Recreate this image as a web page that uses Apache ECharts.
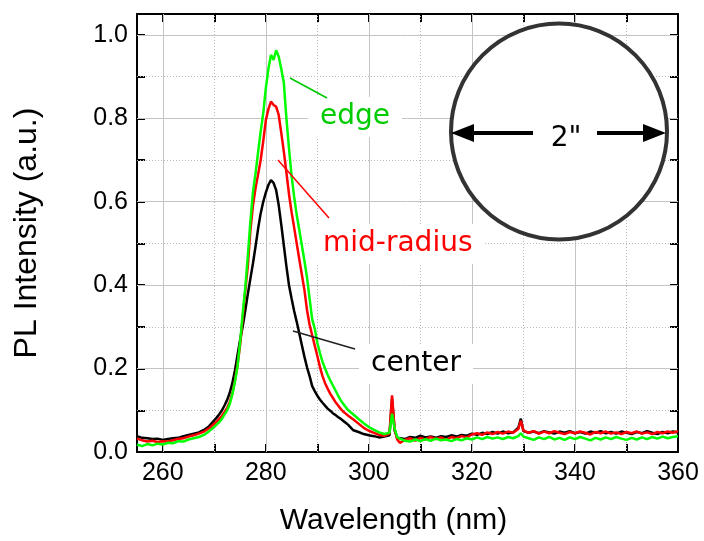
<!DOCTYPE html>
<html>
<head>
<meta charset="utf-8">
<script src="https://cdn.jsdelivr.net/npm/echarts@6/dist/echarts.min.js"></script>
<style>
  html, body { margin: 0; padding: 0; background: #fff; }
  #chart { width: 704px; height: 541px; }
</style>
</head>
<body>
<div id="chart"></div>
<script>
// Sampling wavelengths (nm): coarse in the tails, 0.5 nm across the band-edge peak
const wavelength = [
  255, 256, 257, 258, 259, 260, 261, 262, 263, 264, 265, 266, 267, 268, 269,
  270, 270.5, 271, 271.5, 272, 272.5, 273, 273.5, 274, 274.5, 275, 275.5, 276, 276.5, 277, 277.5,
  278, 278.5, 279, 279.5, 280, 280.5, 281, 281.5, 282, 282.5, 283, 283.5, 284, 284.5, 285, 285.5,
  286, 286.5, 287, 287.5, 288, 288.5, 289, 289.5, 290, 290.5, 291, 291.5, 292, 292.5, 293, 293.5,
  294, 294.5, 295, 295.5, 296,
  297, 298, 299, 300, 301, 302, 303, 304, 304.5, 305, 305.5,
  306, 307, 308, 309, 310, 311, 312, 313, 314, 315, 316, 317, 318, 319, 320, 321, 322, 323, 324,
  325, 326, 327, 328, 329, 329.5,
  330, 331, 332, 333, 334, 335, 336, 337, 338, 339, 340, 341, 342, 343, 344, 345, 346, 347, 348,
  349, 350, 351, 352, 353, 354, 355, 356, 357, 358, 359, 360
];

// PL intensity (a.u.) at the wafer center
const center = [
  .038, .034, .033, .031, .032, .029, .031, .033, .034, .038, .041, .044, .047, .053, .062,
  .076, .083, .091, .100, .112, .125, .142, .165, .195, .232, .268, .300, .338, .378, .415, .452,
  .492, .535, .572, .600, .622, .640, .652, .645, .628, .592, .545, .495, .445, .400, .368, .338,
  .312, .284, .256, .228, .203, .182, .158, .146, .135, .126, .118, .111, .104, .099, .093, .089,
  .084, .080, .075, .070, .065,
  .052, .048, .043, .040, .038, .035, .037, .040, .128, .052, .034,
  .033, .031, .036, .034, .039, .035, .037, .034, .038, .036, .040, .037, .041, .039, .044, .041, .046, .043, .048,
  .044, .049, .045, .047, .058, .080,
  .050, .046, .049, .045, .050, .047, .044, .049, .046, .050, .045, .048, .044, .049, .046, .050, .045, .048, .044,
  .049, .046, .043, .048, .045, .050, .046, .043, .048, .045, .049, .047
];

// PL intensity (a.u.) at mid-radius
const midRadius = [
  .032, .028, .025, .027, .024, .026, .025, .028, .031, .033, .037, .040, .044, .049, .057,
  .068, .073, .080, .087, .096, .106, .120, .140, .170, .208, .255, .320, .385, .445, .530, .590,
  .632, .665, .700, .745, .795, .822, .840, .832, .828, .808, .765, .720, .670, .618, .575, .538,
  .500, .462, .425, .388, .340, .305, .280, .255, .230, .204, .182, .165, .152, .140, .130, .120,
  .112, .104, .097, .092, .087,
  .078, .068, .058, .051, .046, .041, .039, .044, .136, .055, .030,
  .022, .029, .033, .027, .034, .030, .036, .031, .035, .029, .036, .033, .038, .035, .042, .045, .041, .047, .043,
  .048, .044, .049, .046, .055, .075,
  .052, .046, .050, .044, .049, .045, .050, .046, .043, .048, .045, .049, .046, .042, .048, .045, .049, .044, .047,
  .043, .048, .045, .049, .044, .047, .043, .048, .045, .049, .046, .050
];

// PL intensity (a.u.) at the wafer edge
const edge = [
  .018, .014, .019, .016, .020, .018, .022, .021, .026, .025, .030, .033, .036, .041, .050,
  .060, .066, .072, .080, .090, .100, .115, .138, .168, .205, .262, .330, .392, .468, .552, .622,
  .668, .718, .768, .812, .872, .918, .952, .940, .963, .948, .918, .885, .800, .728, .662, .612,
  .568, .532, .495, .458, .418, .368, .318, .296, .262, .238, .216, .200, .185, .172, .160, .148,
  .136, .125, .116, .108, .100,
  .090, .079, .069, .060, .053, .047, .043, .046, .092, .056, .036,
  .032, .027, .025, .030, .026, .031, .027, .032, .028, .030, .026, .031, .028, .033, .030, .035, .031, .036, .032,
  .035, .031, .036, .033, .038, .045,
  .037, .033, .029, .035, .031, .036, .030, .034, .029, .035, .031, .036, .032, .028, .034, .030, .035, .031, .036,
  .032, .029, .034, .030, .035, .031, .036, .032, .037, .033, .036, .038
];

// Axis ticks, labels and grid positions
const xTickLabels = [260, 280, 300, 320, 340, 360];
const xTicks = [260, 270, 280, 290, 300, 310, 320, 330, 340, 350, 360];
const yTickLabels = [0, 0.2, 0.4, 0.6, 0.8, 1.0];
const yTicks = [0, 0.1, 0.2, 0.3, 0.4, 0.5, 0.6, 0.7, 0.8, 0.9, 1.0];
const xMajorGrid = [260, 280, 300, 320, 340];
const xMinorGrid = [270, 290, 310, 330, 350];
const yMajorGrid = [0.2, 0.4, 0.6, 0.8, 1.0];
const yMinorGrid = [0.1, 0.3, 0.5, 0.7, 0.9];

const chart = echarts.init(document.getElementById('chart'), null, { renderer: 'canvas' });

const pairs = ys => wavelength.map((x, i) => [x, ys[i]]);

const solidGrid = { color: '#c4c4c4', width: 1, type: 'solid' };
const dottedGrid = { color: '#b8b8b8', width: 1, type: [1, 2] };
const gridLines = [
  ...xMajorGrid.map(v => ({ xAxis: v, lineStyle: solidGrid })),
  ...xMinorGrid.map(v => ({ xAxis: v, lineStyle: dottedGrid })),
  ...yMajorGrid.map(v => ({ yAxis: v, lineStyle: solidGrid })),
  ...yMinorGrid.map(v => ({ yAxis: v, lineStyle: dottedGrid }))
];

const frameLine = { show: true, onZero: false, lineStyle: { color: '#000', width: 2 } };
const tickStyle = { color: '#000', width: 2 };
const tickFont = { fontFamily: 'Liberation Sans', fontSize: 25, color: '#000' };

const makeX = (position, withLabels) => ({
  type: 'value', min: 255, max: 360, position,
  axisLine: frameLine,
  axisTick: { show: true, inside: true, length: 8, customValues: xTicks, lineStyle: tickStyle },
  axisLabel: withLabels
    ? Object.assign({ show: true, margin: 9, customValues: xTickLabels }, tickFont)
    : { show: false },
  splitLine: { show: false },
  minorTick: { show: false }
});

const makeY = (position, withLabels) => ({
  type: 'value', min: 0, max: 1.05, position,
  axisLine: frameLine,
  axisTick: { show: true, inside: true, length: 8, customValues: yTicks, lineStyle: tickStyle },
  axisLabel: withLabels
    ? Object.assign({ show: true, margin: 9, customValues: yTickLabels,
        formatter: v => Number(v).toFixed(1) }, tickFont)
    : { show: false },
  splitLine: { show: false }
});

const xBottom = makeX('bottom', true);
Object.assign(xBottom, {
  name: 'Wavelength (nm)', nameLocation: 'middle', nameGap: 54,
  nameTextStyle: { fontFamily: 'Liberation Sans', fontSize: 30, color: '#000', padding: [0, 28, 0, 0] }
});
const yLeft = makeY('left', true);
Object.assign(yLeft, {
  name: 'PL Intensity (a.u.)', nameLocation: 'middle', nameGap: 94, nameRotate: 90,
  nameTextStyle: { fontFamily: 'Liberation Sans', fontSize: 32, color: '#000' }
});

const lineSeries = (name, data, color, extra) => Object.assign({
  name, type: 'line', data: pairs(data), showSymbol: false, symbol: 'none',
  lineStyle: { color, width: 2.5 }, itemStyle: { color }, z: 3,
  animation: false, silent: true
}, extra || {});

const labelFont = 'DejaVu Sans';
const annotation = (text, x, y, color) => ({
  type: 'text', x, y, z: 20,
  style: {
    text, fill: color, font: '28px "' + labelFont + '"',
    textAlign: 'left', textVerticalAlign: 'middle',
    backgroundColor: '#fff', padding: [6, 12, 6, 12]
  }
});
const leader = (x1, y1, x2, y2, color) => ({
  type: 'line', z: 21, shape: { x1, y1, x2, y2 },
  style: { stroke: color, lineWidth: 1.5 }
});

chart.setOption({
  animation: false,
  backgroundColor: '#fff',
  grid: { left: 137, top: 14, right: 26, bottom: 89, containLabel: false },
  xAxis: [xBottom, makeX('top', false)],
  yAxis: [yLeft, makeY('right', false)],
  series: [
    lineSeries('center', center, '#000000', {
      markLine: {
        silent: true, symbol: ['none', 'none'], z: 1,
        label: { show: false }, emphasis: { disabled: true },
        animation: false, data: gridLines
      }
    }),
    lineSeries('mid-radius', midRadius, '#ff0000'),
    lineSeries('edge', edge, '#00ff00')
  ],
  graphic: [
    // 2-inch wafer sketch
    { type: 'circle', z: 20, shape: { cx: 559, cy: 131.5, r: 108 },
      style: { fill: '#fff', stroke: '#333', lineWidth: 4 } },
    { type: 'rect', z: 21, shape: { x: 470, y: 131, width: 63, height: 4 }, style: { fill: '#000' } },
    { type: 'rect', z: 21, shape: { x: 597, y: 131, width: 48, height: 4 }, style: { fill: '#000' } },
    { type: 'polygon', z: 21, shape: { points: [[451, 133], [474, 124], [474, 142]] }, style: { fill: '#000' } },
    { type: 'polygon', z: 21, shape: { points: [[666, 133], [643, 124], [643, 142]] }, style: { fill: '#000' } },
    { type: 'text', z: 21, x: 566, y: 139,
      style: { text: '2"', fill: '#000', font: '28px "' + labelFont + '"',
        textAlign: 'center', textVerticalAlign: 'middle' } },
    // curve labels with leader lines
    annotation('edge', 308, 117, '#00cc00'),
    annotation('mid-radius', 311, 244, '#ff0000'),
    annotation('center', 359, 364, '#000000'),
    leader(290, 78, 327, 98, '#00c800'),
    leader(278, 160, 329, 218, '#ff0000'),
    leader(293, 331, 355, 349, '#202020')
  ]
});
</script>
</body>
</html>
